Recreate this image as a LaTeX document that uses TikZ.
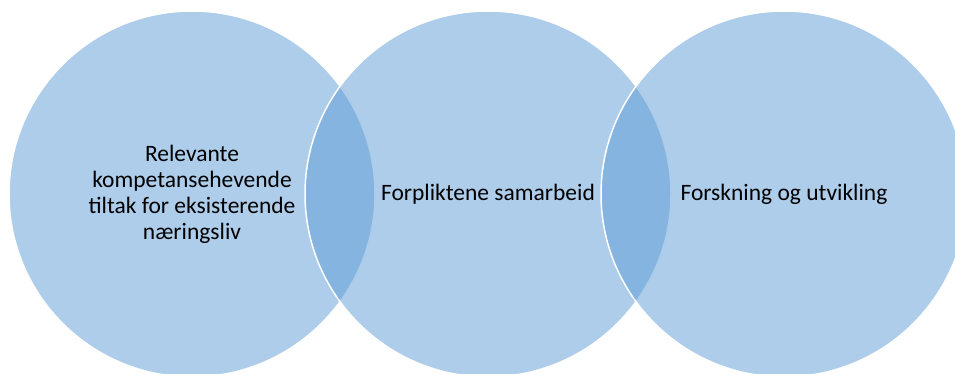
\documentclass[tikz,border=0pt]{standalone}
\usepackage{fontspec}
\setmainfont{Carlito}
\begin{document}
\begin{tikzpicture}[x=1pt,y=-1pt,
  venn/.style={circle, minimum size=366pt, inner sep=0pt, fill={rgb,255:red,91;green,155;blue,213}, fill opacity=0.5, draw=white, line width=1.5pt},
  lbl/.style={font=\fontsize{23.5}{26}\selectfont, align=center, text=black}]
\useasboundingbox (0,0) rectangle (955,374);
\clip (0,0) rectangle (955,374);
\node[venn] (c1) at (192,194) {};
\node[venn] (c2) at (488,194) {};
\node[venn] (c3) at (784,194) {};
\node[lbl] (t1) at (c1.center) {Relevante\\kompetansehevende\\tiltak for eksisterende\\næringsliv};
\node[lbl] (t2) at (c2.center) {Forpliktene samarbeid};
\node[lbl] (t3) at (c3.center) {Forskning og utvikling};
\end{tikzpicture}
\end{document}
